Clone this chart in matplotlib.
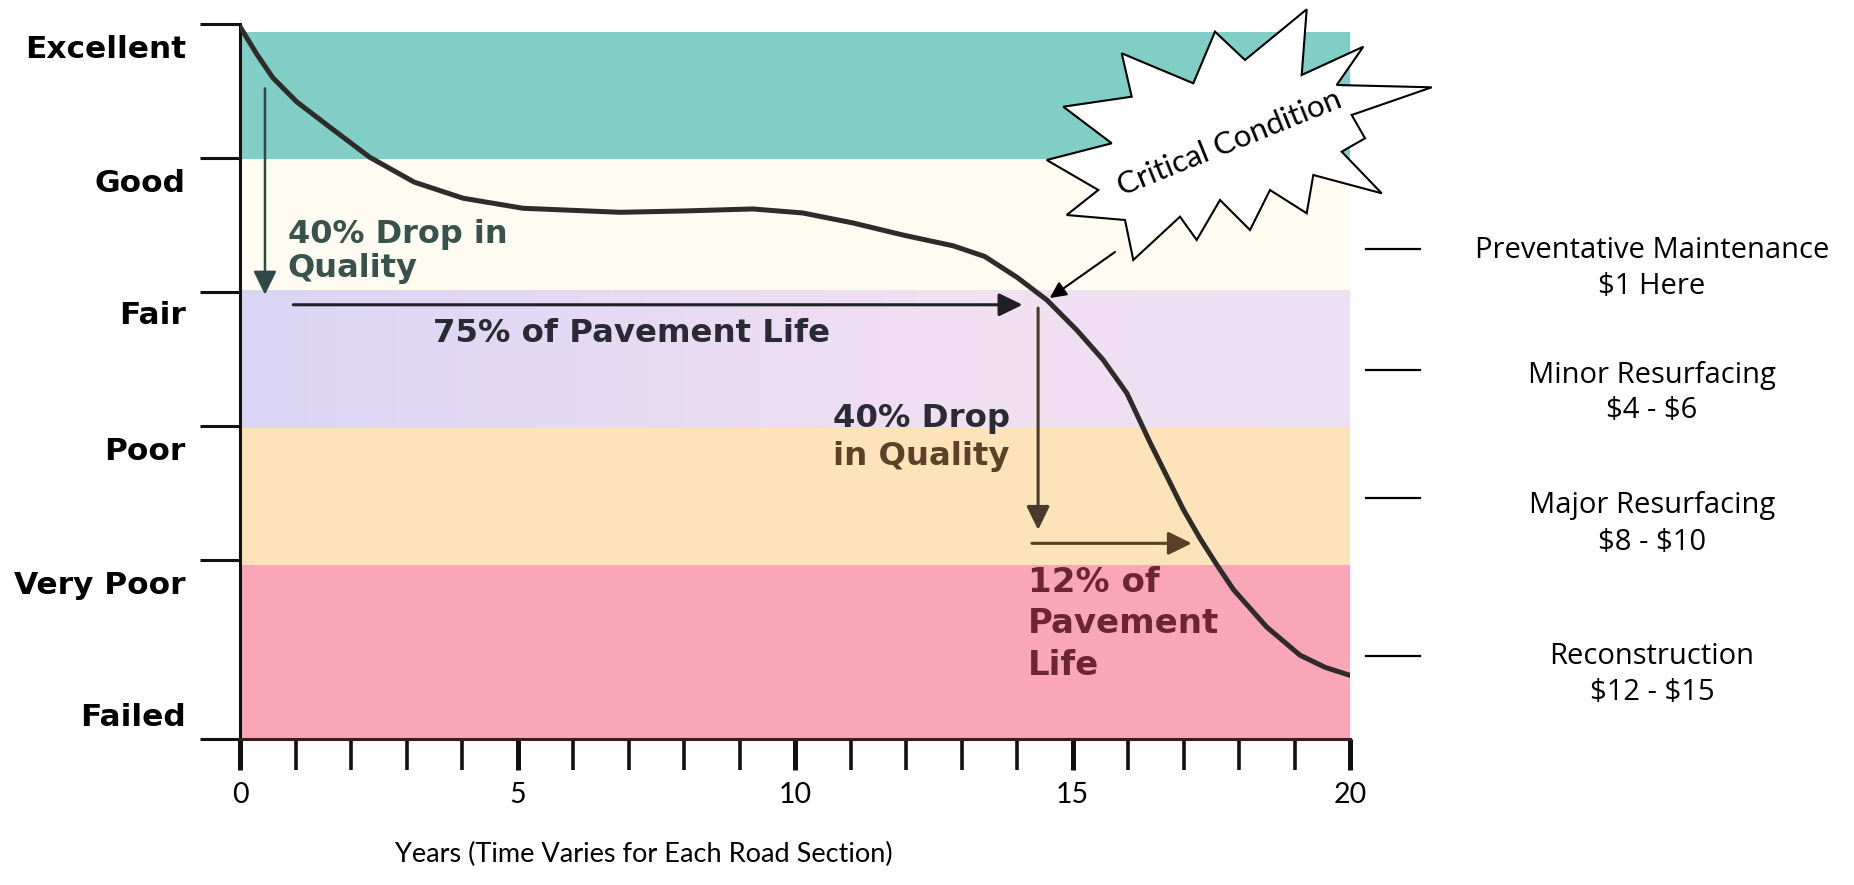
import matplotlib.pyplot as plt
import numpy as np
from matplotlib.colors import LinearSegmentedColormap
from matplotlib.lines import Line2D
from matplotlib.patches import Polygon

W, H = 1854, 885

# pavement condition curve (years, condition index)
years = [0.0, 0.31, 0.59, 1.02, 1.62, 2.34, 3.14, 4.02, 5.1, 6.85, 8.0, 9.24,
         10.14, 11.05, 11.95, 12.85, 13.42, 14.0, 14.54, 15.08, 15.55, 15.98,
         16.4, 16.7, 17.0, 17.3, 17.6, 17.9, 18.5, 19.1, 19.55, 20.0]
condition = [99.6, 95.4, 92.0, 88.4, 84.6, 80.1, 76.4, 74.0, 72.5, 71.9, 72.1,
             72.4, 71.8, 70.3, 68.5, 66.9, 65.3, 62.2, 58.8, 54.3, 49.9, 44.9,
             37.5, 32.5, 27.5, 23.2, 19.3, 15.6, 10.0, 5.8, 4.0, 2.8]

levels = ["Excellent", "Good", "Fair", "Poor", "Very Poor", "Failed"]
level_label_pos = [96.6, 76.7, 56.9, 36.6, 16.6, -3.1]
level_edges = [100, 80, 60, 40, 20, -6.7]

band_edges = [98.8, 79.85, 60.15, 39.7, 19.25, -6.7]
band_colors = ["#80cec5", "#fefcf0", "#e8dbf4", "#fde3ba", "#f9a7b6"]

treatments = ["Preventative Maintenance", "Minor Resurfacing",
              "Major Resurfacing", "Reconstruction"]
costs = ["$1 Here", "$4 - $6", "$8 - $10", "$12 - $15"]


def fpx(x, y):
    # full-size pixel -> figure fraction
    return x / W, 1 - y / H


fig = plt.figure(figsize=(W / 100, H / 100), dpi=100)
ax = fig.add_axes([240 / W, 1 - 739 / H, 1110 / W, 715 / H])

# condition bands
for top, bot, c in zip(band_edges[:-1], band_edges[1:], band_colors):
    ax.axhspan(bot, top, color=c, lw=0, zorder=0)

# mottled lavender band, bluish on the left, pinkish to the right
lav = LinearSegmentedColormap.from_list(
    "lav", ["#dad5f4", "#e6daf4", "#f2dff2", "#eddff5"])
ax.imshow(np.linspace(0, 1, 256)[None, :], extent=[0, 20, band_edges[3], band_edges[2]],
          aspect="auto", cmap=lav, zorder=0.5, interpolation="bicubic")

ax.plot(years, condition, color="#2e2b2a", lw=3.6, solid_capstyle="round",
        solid_joinstyle="round", zorder=3)

ax.set_xlim(0, 20)
ax.set_ylim(-6.7, 100)

# y axis: tick marks on band edges, labels in between
ax.set_yticks(level_edges)
ax.set_yticklabels([])
ax.set_yticks(level_label_pos, minor=True)
ax.set_yticklabels(levels, minor=True, fontsize=22.5, fontweight="bold",
                   family="DejaVu Sans")
ax.tick_params(axis="y", which="major", length=29, width=2.2, color="#111111")
ax.tick_params(axis="y", which="minor", length=0, pad=39)

ax.set_xticks([0, 5, 10, 15, 20])
ax.set_xticks(range(21), minor=True)
ax.tick_params(axis="x", which="major", length=22, width=3.6, pad=9,
               labelsize=20.5, color="#111111")
ax.tick_params(axis="x", which="minor", length=22, width=2.6, color="#111111")
for lbl in ax.get_xticklabels():
    lbl.set_fontfamily("Lato")

for s in ["top", "right"]:
    ax.spines[s].set_visible(False)
ax.spines["left"].set_linewidth(2.2)
ax.spines["left"].set_color("#111111")
ax.spines["bottom"].set_linewidth(2.2)
ax.spines["bottom"].set_color("#3b1d1d")


def arrow(x0, y0, x1, y1, color, lw=2.2, ms=32):
    ax.annotate("", xy=(x1, y1), xytext=(x0, y0), zorder=4,
                arrowprops=dict(arrowstyle="-|>,head_length=0.45,head_width=0.22",
                                color=color, lw=lw, mutation_scale=ms,
                                shrinkA=0, shrinkB=0))


bold = dict(fontweight="bold", family="DejaVu Sans", va="baseline", zorder=4)

# first drop in quality
arrow(0.45, 90.4, 0.45, 59.6, "#2f4a46", lw=1.8)
ax.text(0.86, 67.3, "40% Drop in", color="#3a524e", fontsize=23, **bold)
ax.text(0.86, 62.2, "Quality", color="#3a524e", fontsize=23, **bold)

# 75% of life
arrow(0.96, 58.1, 14.1, 58.1, "#1f1f26")
ax.text(3.48, 52.5, "75% of Pavement Life", color="#2a2a35", fontsize=23.3, **bold)

# second drop in quality
arrow(14.38, 57.6, 14.38, 24.5, "#4a3a2e")
ax.text(10.69, 39.9, "40% Drop", color="#2b2b33", fontsize=23.3, **bold)
ax.text(10.69, 34.2, "in Quality", color="#5b4128", fontsize=23.3, **bold)

# 12% of life
arrow(14.27, 22.5, 17.15, 22.5, "#5b3f27")
for txt, yv in zip(["12% of", "Pavement", "Life"], [15.2, 9.1, 2.8]):
    ax.text(14.2, yv, txt, color="#6b2632", fontsize=24.5, **bold)

# critical condition starburst
star_px = [(1306.7, 9.3), (1301.7, 75), (1363.3, 46.7), (1336.7, 85), (1431.7, 87.3),
           (1351.7, 115), (1365, 138.3), (1341.7, 151.7), (1381.7, 193.3),
           (1313.3, 175), (1306.7, 213.3), (1270, 190), (1250, 230), (1220, 200),
           (1196.7, 240), (1180, 216.7), (1133.3, 260), (1125, 220), (1066.7, 215),
           (1098.3, 190), (1046.7, 160), (1111.7, 143.3), (1063.3, 106.7),
           (1131.7, 96.7), (1121.7, 53.3), (1193.3, 83.3), (1215, 31.7), (1245, 60)]
fig.add_artist(Polygon([fpx(x, y) for x, y in star_px], closed=True,
                       transform=fig.transFigure, facecolor="white",
                       edgecolor="black", lw=1.5, zorder=5))
fig.text(*fpx(1229, 143), "Critical Condition", rotation=22, rotation_mode="anchor",
         ha="center", va="center", fontsize=22.5, family="Lato", zorder=6)
ax.annotate("", xy=(14.59, 59.1), xycoords="data", xytext=fpx(1115, 252),
            textcoords="figure fraction", zorder=6,
            arrowprops=dict(arrowstyle="-|>,head_length=0.45,head_width=0.22",
                            color="black", lw=1.5, mutation_scale=22,
                            shrinkA=0, shrinkB=0))

# treatment costs on the right
line_y = [249, 370, 498, 656]
name_y = [251, 375, 506, 657]
for name, cost, ly, ny in zip(treatments, costs, line_y, name_y):
    fig.add_artist(Line2D([1366 / W, 1420 / W], [1 - ly / H] * 2,
                          transform=fig.transFigure, color="black", lw=1.6))
    fig.text(*fpx(1652, ny), name, ha="center", va="center", fontsize=21,
             family="Open Sans", parse_math=False)
    fig.text(*fpx(1652, ny + 36), cost, ha="center", va="center", fontsize=21,
             family="Open Sans", parse_math=False)

fig.text(*fpx(644, 854), "Years (Time Varies for Each Road Section)",
         ha="center", va="center", fontsize=19.5, family="Lato")

fig.savefig("out.png", dpi=100)
